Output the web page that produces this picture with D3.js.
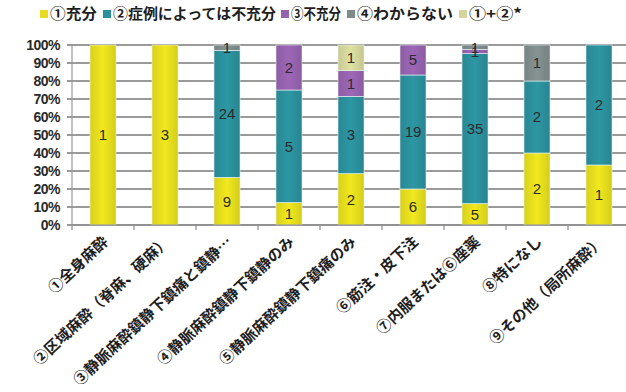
<!DOCTYPE html>
<html><head><meta charset="utf-8">
<script src="https://cdn.jsdelivr.net/npm/d3@7"></script>
<style>
html,body{margin:0;padding:0;background:#fff;}
svg{display:block;font-family:"Noto Sans CJK JP","Noto Sans",sans-serif;}
</style></head>
<body>
<svg id="chart" width="626" height="392"></svg>
<script>
const categories = ["①全身麻酔","②区域麻酔（脊麻、硬麻）","③静脈麻酔鎮静下鎮痛と鎮静…","④静脈麻酔鎮静下鎮静のみ","⑤静脈麻酔鎮静下鎮痛のみ","⑥筋注・皮下注","⑦内服または⑥座薬","⑧特になし","⑨その他（局所麻酔）"];
const seriesNames = ["①充分","②症例によっては不充分","③不充分","④わからない","①+②*"];
const seriesColors = ["#e4dc1c","#2b8f9b","#9562ad","#7f8b8b","#d3d59a"];
const s1 = [1,3,9,1,2,6,5,2,1];
const s2 = [0,0,24,5,3,19,35,2,2];
const s3 = [0,0,0,2,1,5,1,0,0];
const s4 = [0,0,1,0,0,0,1,1,0];
const s5 = [0,0,0,0,1,0,0,0,0];
const yTicks = [0,0.1,0.2,0.3,0.4,0.5,0.6,0.7,0.8,0.9,1];

(function(){
const seriesValues = [s1,s2,s3,s4,s5];
const keys = seriesNames;
const table = categories.map((c,i)=>{
  const row = {cat:c};
  const tot = d3.sum(seriesValues, s=>s[i]);
  keys.forEach((k,j)=>{ row[k] = seriesValues[j][i]/tot; row[k+"_n"] = seriesValues[j][i]; });
  return row;
});

const svg = d3.select("#chart");
const mLeft = 72, mRight = 630, mTop = 45, mBottom = 225;
const x = d3.scaleBand().domain(categories).range([mLeft,mRight]).paddingInner(0.58).paddingOuter(0.29);
const y = d3.scaleLinear().domain([0,1]).range([mBottom,mTop]);

const defs = svg.append("defs");
seriesColors.forEach((c,i)=>{
  const g = defs.append("linearGradient").attr("id","g"+i).attr("x1","0").attr("x2","1").attr("y1","0").attr("y2","0");
  const cc = d3.color(c);
  g.append("stop").attr("offset","0").attr("stop-color", cc.darker(0.15));
  g.append("stop").attr("offset","0.5").attr("stop-color", cc.brighter(0.15));
  g.append("stop").attr("offset","1").attr("stop-color", cc.darker(0.2));
});

svg.append("g").selectAll("line").data(yTicks).join("line")
  .attr("x1", mLeft-5).attr("x2", 626).attr("y1", d=>y(d)).attr("y2", d=>y(d))
  .attr("stroke","#9a9a9a").attr("stroke-width",1.2).attr("shape-rendering","crispEdges");

svg.append("line").attr("x1",mLeft).attr("x2",mLeft).attr("y1",mTop).attr("y2",mBottom)
  .attr("stroke","#9a9a9a").attr("stroke-width",1.2);

svg.append("g").selectAll("text").data(yTicks).join("text")
  .attr("x", mLeft-12).attr("y", d=>y(d)).attr("dy","0.36em")
  .attr("text-anchor","end").attr("font-family","'Liberation Sans',Arial,sans-serif")
  .attr("font-weight","bold").attr("font-size",14).attr("letter-spacing","-0.5")
  .attr("fill","#2a2a2a").text(d=>d3.format(".0%")(d));

const stack = d3.stack().keys(keys)(table);
const gBars = svg.append("g");
stack.forEach((layer,li)=>{
  gBars.append("g").selectAll("rect").data(layer.filter(d=>d.data[keys[li]+"_n"]>0)).join("rect")
    .attr("x", d=>x(d.data.cat)).attr("width", x.bandwidth())
    .attr("y", d=>y(d[1])).attr("height", d=>y(d[0])-y(d[1]))
    .attr("fill","url(#g"+li+")")
    .attr("stroke","#e8f4f4").attr("stroke-width",0.6);
});
stack.forEach((layer,li)=>{
  gBars.append("g").selectAll("text").data(layer.filter(d=>d.data[keys[li]+"_n"]>0)).join("text")
    .attr("x", d=>x(d.data.cat)+x.bandwidth()/2)
    .attr("y", d=>(y(d[0])+y(d[1]))/2).attr("dy","0.36em")
    .attr("text-anchor","middle").attr("font-size",15)
    .attr("font-family","'Liberation Sans',Arial,sans-serif")
    .attr("fill","#2b2b2b").text(d=>d.data[keys[li]+"_n"]);
});

svg.append("line").attr("x1",mLeft).attr("x2",626).attr("y1",mBottom).attr("y2",mBottom)
  .attr("stroke","#8a8a8a").attr("stroke-width",1.2);
const step = x.step();
svg.append("g").selectAll("line").data(d3.range(categories.length)).join("line")
  .attr("x1", i=>mLeft+i*step).attr("x2", i=>mLeft+i*step)
  .attr("y1", mBottom).attr("y2", mBottom+5).attr("stroke","#8a8a8a").attr("stroke-width",1.2);

svg.append("g").selectAll("text").data(categories).join("text")
  .attr("transform", d=>`translate(${x(d)+x.bandwidth()/2+6},${mBottom+18}) rotate(-43)`)
  .attr("text-anchor","end").attr("font-size",15).attr("font-weight","bold")
  .attr("fill","#1e1e1e").text(d=>d);

const legendX = [40,103,281,347,459];
const legendW = [47,163,50,96,53];
const lg = svg.append("g");
keys.forEach((k,i)=>{
  lg.append("rect").attr("x",legendX[i]).attr("y",10).attr("width",8).attr("height",8)
    .attr("fill",seriesColors[i]);
  lg.append("text").attr("x",legendX[i]+10).attr("y",14).attr("dy","0.36em")
    .attr("font-size",14.5).attr("font-weight","bold").attr("fill","#1e1e1e")
    .attr("textLength",legendW[i]).attr("lengthAdjust","spacingAndGlyphs").text(k);
});
})();
</script>
</body></html>
